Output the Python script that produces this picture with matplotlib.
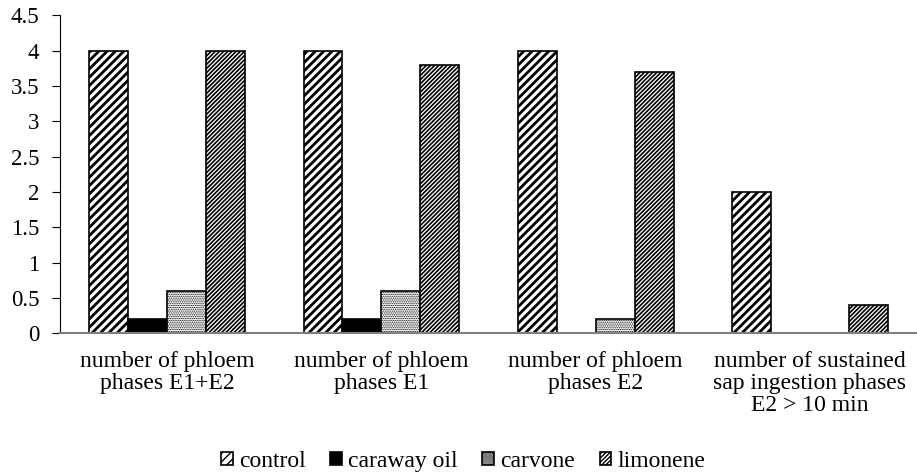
import numpy as np
import matplotlib as mpl
import matplotlib.pyplot as plt

categories = ['number of phloem\nphases E1+E2', 'number of phloem\nphases E1',
              'number of phloem\nphases E2', 'number of sustained\nsap ingestion phases\nE2 > 10 min']
series = ['control', 'caraway oil', 'carvone', 'limonene']
control = [4, 4, 4, 2]
caraway_oil = [0.2, 0.2, 0, 0]
carvone = [0.6, 0.6, 0.2, 0]
limonene = [4, 3.8, 3.7, 0.4]
values = [control, caraway_oil, carvone, limonene]

plt.rcParams['font.family'] = 'serif'
plt.rcParams['font.serif'] = ['Liberation Serif', 'DejaVu Serif']
plt.rcParams['font.size'] = 17

fig = plt.figure(figsize=(9.17, 4.74), dpi=100)
ax = fig.add_axes([0.0655, 0.297, 0.9345, 0.671])

# hatch styles per series (Excel-like patterns)
styles = [
    dict(color='white', hatch='////', hlw=2.0),
    dict(color='black', hatch='', hlw=1.0),
    dict(color='white', hatch='.........', hlw=0.6),
    dict(color='white', hatch='////////', hlw=1.2),
]

x = np.arange(len(categories))
w = 1 / 5.5
handles = []
for i, (name, vals, st) in enumerate(zip(series, values, styles)):
    pos = x + (i - 1.5) * w
    with mpl.rc_context({'hatch.linewidth': st['hlw']}):
        bars = ax.bar(pos, vals, w, color=st['color'], edgecolor='black', linewidth=1.2,
                      hatch=st['hatch'], label=name)
    for b in bars:
        if b.get_height() == 0:
            b.set_visible(False)
        if hasattr(b, 'set_hatch_linewidth'):
            b.set_hatch_linewidth(st['hlw'])
    handles.append(bars)

ax.set_xlim(-0.5, 3.5)
ax.set_ylim(0, 4.5)
ax.set_yticks(np.arange(0, 4.51, 0.5))
ax.set_yticklabels(['0', '0.5', '1', '1.5', '2', '2.5', '3', '3.5', '4', '4.5'], fontsize=16.5)
ax.set_xticks(x)
ax.set_xticklabels(categories, linespacing=1.05)
ax.tick_params(axis='x', length=0, pad=13)
ax.tick_params(axis='y', length=6, direction='out', pad=9)
for s in ['top', 'right']:
    ax.spines[s].set_visible(False)
ax.spines['bottom'].set_color('#808080')
ax.spines['bottom'].set_linewidth(1.5)
ax.spines['left'].set_color('black')
ax.spines['left'].set_linewidth(0.8)

fig.legend(handles, series, loc='lower center', bbox_to_anchor=(0.505, -0.04), ncol=4,
           frameon=False, handlelength=0.5, handleheight=0.5, handletextpad=0.25,
           columnspacing=1.05, prop={'family': 'serif', 'size': 17})

fig.savefig('out.png', dpi=100)
